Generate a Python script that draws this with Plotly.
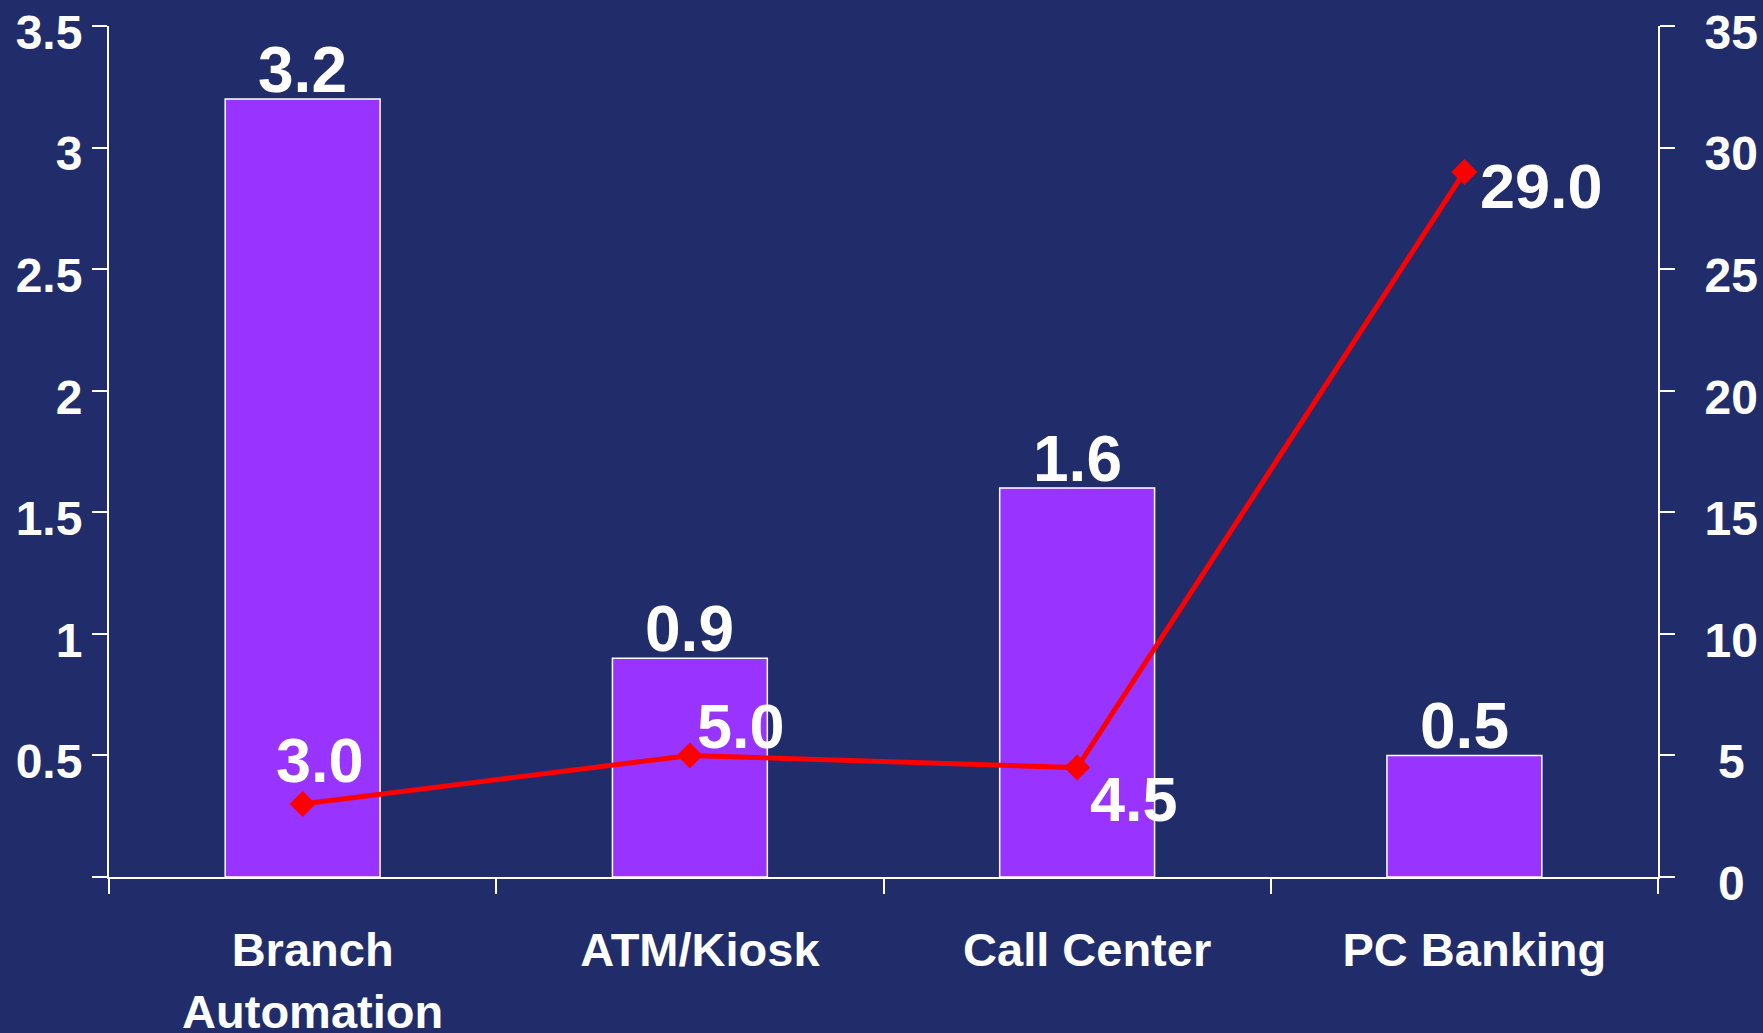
import plotly.graph_objects as go

categories = ["Branch<br>Automation", "ATM/Kiosk", "Call Center", "PC Banking"]
bar_values = [3.2, 0.9, 1.6, 0.5]
line_values = [3.0, 5.0, 4.5, 29.0]
left_ticks = [0, 0.5, 1, 1.5, 2, 2.5, 3, 3.5]
left_ticktext = ["", "0.5", "1", "1.5", "2", "2.5", "3", "3.5"]
right_ticks = [0, 5, 10, 15, 20, 25, 30, 35]

# label offsets (px) for the line labels: (dx, dy)
line_label_offsets = [(17, 44), (51, 29), (57, -31), (77, -14)]

BG = "#212D6B"
FONT = "Liberation Sans, Arial, sans-serif"
WHITE = "white"

fig = go.Figure()
fig.add_trace(go.Bar(
    x=categories, y=bar_values,
    marker=dict(color="#9933FF", line=dict(color=WHITE, width=1.5)),
    xaxis="x", yaxis="y", width=0.4,
))
fig.add_trace(go.Scatter(
    x=categories, y=line_values, mode="lines+markers",
    line=dict(color="#FF0000", width=5),
    marker=dict(symbol="diamond", size=20, color="#FF0000"),
    xaxis="x", yaxis="y2", cliponaxis=False,
))

for c, v in zip(categories, bar_values):
    fig.add_annotation(x=c, y=v, xref="x", yref="y", text=f"{v:.1f}",
                       showarrow=False, xanchor="center", yanchor="bottom",
                       yshift=-9,
                       font=dict(family=FONT, size=64, color=WHITE, weight="bold"))

for c, v, (dx, dy) in zip(categories, line_values, line_label_offsets):
    fig.add_annotation(x=c, y=v, xref="x", yref="y2", text=f"{v:.1f}",
                       showarrow=False, xanchor="center", yanchor="middle",
                       xshift=dx, yshift=dy,
                       font=dict(family=FONT, size=63, color=WHITE, weight="bold"))

n = len(categories)
boundaries = [i - 0.5 for i in range(n + 1)]
tickfont = dict(family=FONT, size=48, color=WHITE, weight="bold")
common = dict(showgrid=False, zeroline=False, tickcolor=WHITE, tickwidth=2, ticklen=15,
              automargin=False)

fig.update_layout(
    width=1763, height=1033,
    paper_bgcolor=BG, plot_bgcolor=BG,
    margin=dict(l=109, r=105, t=26, b=156),
    showlegend=False,
    xaxis=dict(type="category", categoryorder="array", categoryarray=categories,
               range=[-0.5, n - 0.5], tickson="boundaries", ticks="outside",
               showline=True, linecolor=WHITE, linewidth=2,
               tickfont=dict(family=FONT, size=47, color=WHITE, weight="bold"),
               ticklabelstandoff=31, ticklabelshift=10, ticklabeloverflow="allow", **common),
    xaxis2=dict(overlaying="x", anchor="y", side="bottom", type="linear",
                range=[-0.5, n - 0.5], tickvals=boundaries, ticks="inside",
                showticklabels=False, showline=False, **common),
    yaxis=dict(range=[0, 3.5], tickvals=left_ticks, ticktext=left_ticktext,
               ticks="outside", showline=True, linecolor=WHITE, linewidth=2,
               tickfont=tickfont, side="left", ticklabeloverflow="allow",
               ticklabelshift=6, **common),
    yaxis3=dict(range=[0, 3.5], tickvals=left_ticks, overlaying="y", side="left",
                ticks="inside", showticklabels=False, showline=False, anchor="x", **common),
    yaxis2=dict(range=[0, 35], tickvals=right_ticks,
                ticktext=[("\u00a0" + str(t)) if t < 10 else str(t) for t in right_ticks],
                ticks="outside", showline=True, linecolor=WHITE, linewidth=2,
                tickfont=tickfont, side="right", overlaying="y", anchor="x",
                ticklabelstandoff=20, ticklabeloverflow="allow", ticklabelshift=6,
                **common),
    yaxis4=dict(range=[0, 35], tickvals=right_ticks, overlaying="y", side="right",
                ticks="inside", showticklabels=False, showline=False, anchor="x", **common),
)

fig.write_html("out.html")
